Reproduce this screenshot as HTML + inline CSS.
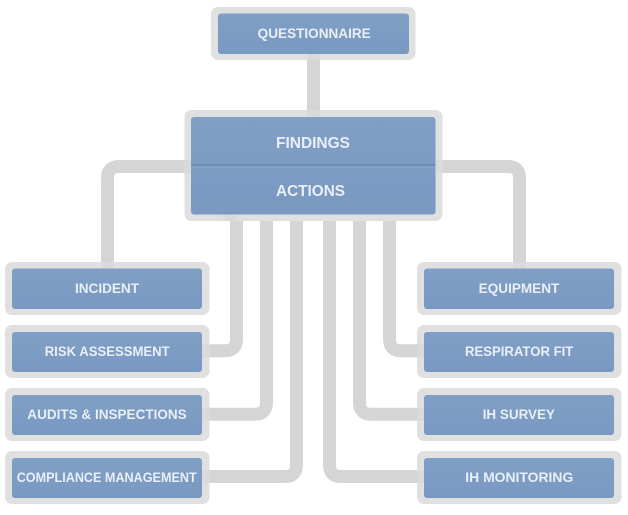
<!DOCTYPE html>
<html><head><meta charset="utf-8"><style>
html,body{margin:0;padding:0;background:#fff;width:628px;height:515px;overflow:hidden}
svg{display:block}
text{font-family:"Liberation Sans",sans-serif;font-weight:bold;fill:#e9eff6;font-size:13.5px}
.o{fill:#e0e0e0}
.i{fill:url(#g)}
.c{fill:none;stroke:#d5d5d5;stroke-width:13}
</style></head><body>
<svg width="628" height="515" viewBox="0 0 628 515" xmlns="http://www.w3.org/2000/svg">
<defs>
<linearGradient id="g" x1="0" y1="0" x2="0" y2="1"><stop offset="0" stop-color="#7f9fc6"/><stop offset="1" stop-color="#7999c2"/></linearGradient>
</defs>
<path class="c" d="M313.5 55V115"/>
<path class="c" d="M190 166.500H119Q107.500 166.500 107.500 178V268"/>
<path class="c" d="M436 166.500H508Q519.500 166.500 519.500 178V268"/>
<path class="c" d="M236.500 215V339Q236.500 350.800 225 350.800H205"/>
<path class="c" d="M266.500 215V402.500Q266.500 414.200 255 414.200H205"/>
<path class="c" d="M296.500 215V465Q296.500 476.500 285 476.500H205"/>
<path class="c" d="M329.500 215V465Q329.500 476.500 341 476.500H420"/>
<path class="c" d="M359.500 215V402.500Q359.500 414.200 371 414.200H420"/>
<path class="c" d="M389.500 215V339Q389.500 350.800 401 350.800H420"/>

<rect class="o" x="211" y="7" width="204.500" height="53" rx="7"/>
<rect class="i" x="218" y="13.500" width="191" height="40.500" rx="3"/>
<rect class="o" x="184.500" y="110" width="258" height="111" rx="7"/>
<rect class="i" x="191" y="117" width="244.500" height="97.500" rx="3"/>
<rect x="191" y="164" width="244.500" height="2.200" fill="#6a8cb6"/>
<rect x="191" y="166.200" width="244.500" height="1.300" fill="#8aa8cc"/>

<rect class="o" x="5" y="262" width="204.500" height="53" rx="7"/>
<rect class="i" x="12" y="268.500" width="190" height="40.500" rx="3"/>
<rect class="o" x="5" y="325" width="204.500" height="53" rx="7"/>
<rect class="i" x="12" y="332" width="190" height="40" rx="3"/>
<rect class="o" x="5" y="388" width="204.500" height="53" rx="7"/>
<rect class="i" x="12" y="395" width="190" height="40" rx="3"/>
<rect class="o" x="5" y="451" width="204.500" height="53" rx="7"/>
<rect class="i" x="12" y="458" width="190" height="40" rx="3"/>

<rect class="o" x="417" y="262" width="204.500" height="53" rx="7"/>
<rect class="i" x="424" y="268.500" width="190" height="40.500" rx="3"/>
<rect class="o" x="417" y="325" width="204.500" height="53" rx="7"/>
<rect class="i" x="424" y="332" width="190" height="40" rx="3"/>
<rect class="o" x="417" y="388" width="204.500" height="53" rx="7"/>
<rect class="i" x="424" y="395" width="190" height="40" rx="3"/>
<rect class="o" x="417" y="451" width="204.500" height="53" rx="7"/>
<rect class="i" x="424" y="458" width="190" height="40" rx="3"/>

<path class="c" stroke-opacity=".55" d="M313.500 54V60M313.500 110V117M107.500 262V268.500M519.500 262V268.500M184.500 166.500H191M442.500 166.500H436M230 214.500V221M202 350.800H209M202 414.200H209M202 476.500H209M417 350.800H424M417 414.200H424M417 476.500H424"/>

<text x="257.700" y="37.800" textLength="113" lengthAdjust="spacingAndGlyphs">QUESTIONNAIRE</text>
<text x="276" y="147.800" style="font-size:15.500px" textLength="74" lengthAdjust="spacingAndGlyphs">FINDINGS</text>
<text x="276" y="196" style="font-size:15.500px" textLength="69" lengthAdjust="spacingAndGlyphs">ACTIONS</text>
<text x="75" y="292.800" textLength="64" lengthAdjust="spacingAndGlyphs">INCIDENT</text>
<text x="44.700" y="356" textLength="125" lengthAdjust="spacingAndGlyphs">RISK ASSESSMENT</text>
<text x="27.300" y="419" textLength="159.400" lengthAdjust="spacingAndGlyphs">AUDITS &amp; INSPECTIONS</text>
<text x="16.700" y="482" textLength="180" lengthAdjust="spacingAndGlyphs">COMPLIANCE MANAGEMENT</text>
<text x="478.700" y="292.800" textLength="80.600" lengthAdjust="spacingAndGlyphs">EQUIPMENT</text>
<text x="465" y="356" textLength="108.300" lengthAdjust="spacingAndGlyphs">RESPIRATOR FIT</text>
<text x="482.700" y="419" textLength="72.300" lengthAdjust="spacingAndGlyphs">IH SURVEY</text>
<text x="465.300" y="482" textLength="108" lengthAdjust="spacingAndGlyphs">IH MONITORING</text>
</svg>
</body></html>
